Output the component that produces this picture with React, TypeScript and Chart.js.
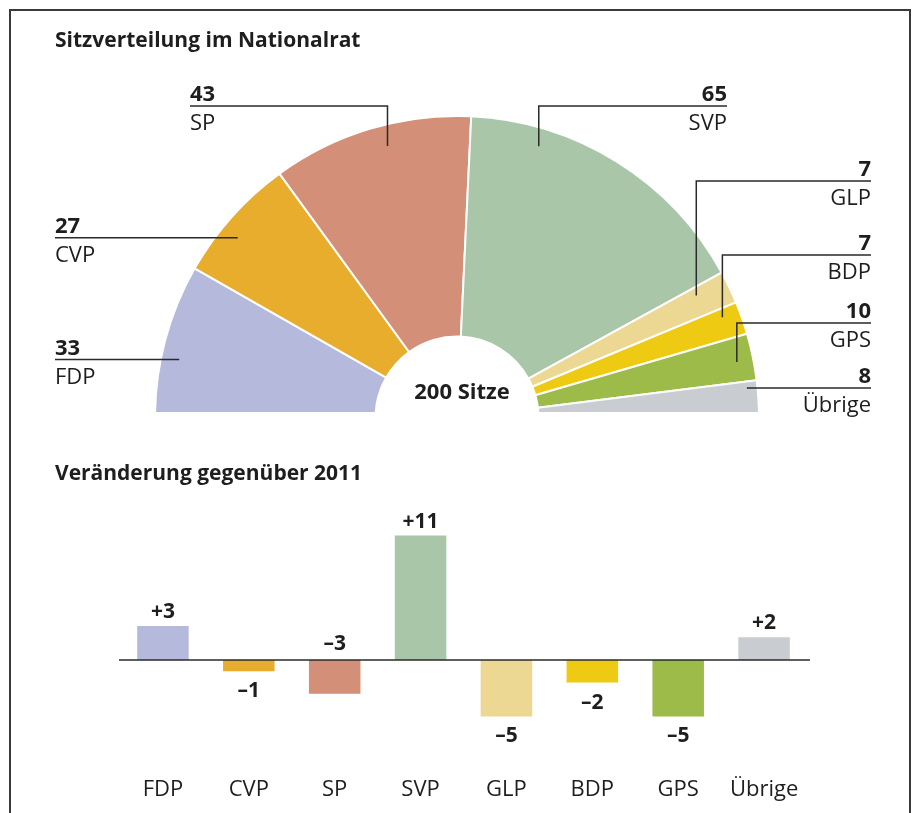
import React, { useEffect, useRef } from "react";
import Chart from "chart.js/auto";

// ---------- data ----------
const parties = ["FDP", "CVP", "SP", "SVP", "GLP", "BDP", "GPS", "Übrige"];
const seats = [33, 27, 43, 65, 7, 7, 10, 8];
const changes = [3, -1, -3, 11, -5, -2, -5, 2];
const changeLabels = ["+3", "–1", "–3", "+11", "–5", "–2", "–5", "+2"];
const partyColors = ["#b5badd", "#e8ad2c", "#d38f78", "#aac6a8", "#ecd892", "#efca12", "#9dbb49", "#c9ccd1"];
const title1 = "Sitzverteilung im Nationalrat";
const title2 = "Veränderung gegenüber 2011";
const centerLabel = "200 Sitze";

// leader-line layout (style, not data)
const leaderAlign: CanvasTextAlign[] = ["left", "left", "left", "right", "right", "right", "right", "right"];
const leaderTextX = [55, 55, 190, 727, 871, 871, 871, 871];
const leaderLineY: (number | null)[] = [null, null, 106, 106, 181, 255, 323, null];
const anchorFrac = [0.4, 0.4, 0.56, 0.24, 0.27, 0.27, 0.54, 0.18];
const anchorRadius = [0.94, 0.94, 0.93, 0.94, 0.89, 0.94, 0.945, 0.965];
const labelAboveAxis = [false, false, true, false, false, false, false, false];

const FONT = "'Open Sans', Lato, sans-serif";
const INK = "#1e1e1e";

export default function App() {
  const donutRef = useRef<HTMLCanvasElement>(null);
  const barRef = useRef<HTMLCanvasElement>(null);

  useEffect(() => {
    const donutPlugin = {
      id: "donutDeco",
      beforeDatasetsDraw(chart: any) {
        const ctx = chart.ctx;
        ctx.save();
        ctx.beginPath();
        ctx.rect(0, 0, chart.width, 412);
        ctx.clip();
      },
      afterDatasetsDraw(chart: any) {
        chart.ctx.restore();
      },
      afterDraw(chart: any) {
        const ctx = chart.ctx as CanvasRenderingContext2D;
        const arcs = chart.getDatasetMeta(0).data;
        ctx.save();
        ctx.fillStyle = INK;
        ctx.textAlign = "left";
        ctx.textBaseline = "alphabetic";
        ctx.font = `bold 21px ${FONT}`;
        ctx.fillText(title1, 55, 47);
        const a0 = arcs[0];
        ctx.textAlign = "center";
        ctx.font = `bold 22px ${FONT}`;
        ctx.fillText(centerLabel, a0.x + 5, 399);
        arcs.forEach((arc: any, i: number) => {
          const ang = arc.startAngle + anchorFrac[i] * (arc.endAngle - arc.startAngle);
          const r = arc.outerRadius * anchorRadius[i];
          const ax = arc.x + r * Math.cos(ang);
          const ay = arc.y + r * Math.sin(ang);
          const ly = leaderLineY[i] ?? ay;
          const tx = leaderTextX[i];
          ctx.strokeStyle = "#2a2a2a";
          ctx.lineWidth = 1.5;
          ctx.beginPath();
          ctx.moveTo(tx, ly);
          ctx.lineTo(ax, ly);
          ctx.lineTo(ax, ay);
          ctx.stroke();
          ctx.textAlign = leaderAlign[i];
          ctx.fillStyle = INK;
          ctx.font = `bold 22px ${FONT}`;
          ctx.fillText(String(seats[i]), tx, ly - 5);
          ctx.font = `22px ${FONT}`;
          ctx.fillText(parties[i], tx, ly + 24);
        });
        ctx.restore();
      },
    };

    const donut = new Chart(donutRef.current!, {
      type: "doughnut",
      data: {
        labels: parties,
        datasets: [
          {
            data: seats,
            backgroundColor: partyColors,
            borderColor: "#ffffff",
            borderWidth: 2,
          },
        ],
      },
      options: {
        animation: false,
        responsive: false,
        rotation: -90,
        circumference: 180,
        cutout: "27%",
        layout: { padding: { left: 154, right: 155, top: 115, bottom: 11 } },
        plugins: { legend: { display: false }, tooltip: { enabled: false } },
      },
      plugins: [donutPlugin],
    });

    const barPlugin = {
      id: "barDeco",
      afterDraw(chart: any) {
        const ctx = chart.ctx as CanvasRenderingContext2D;
        const { left, right } = chart.chartArea;
        const xs = chart.scales.x;
        const ys = chart.scales.y;
        const zero = ys.getPixelForValue(0);
        ctx.save();
        ctx.fillStyle = INK;
        ctx.textAlign = "left";
        ctx.textBaseline = "alphabetic";
        ctx.font = `bold 21px ${FONT}`;
        ctx.fillText(title2, 55, 50);
        ctx.strokeStyle = "#2a2a2a";
        ctx.lineWidth = 1.5;
        ctx.beginPath();
        ctx.moveTo(left - 1, zero);
        ctx.lineTo(right + 3, zero);
        ctx.stroke();
        const bars = chart.getDatasetMeta(0).data;
        bars.forEach((bar: any, i: number) => {
          const x = xs.getPixelForValue(i);
          ctx.textAlign = "center";
          ctx.font = `bold 21px ${FONT}`;
          let y: number;
          if (labelAboveAxis[i]) y = zero - 10;
          else if (changes[i] >= 0) y = bar.y - 8;
          else y = bar.y + 26;
          ctx.fillText(changeLabels[i], x, y);
          ctx.font = `22px ${FONT}`;
          ctx.fillText(parties[i], x, 366);
        });
        ctx.restore();
      },
    };

    const bar = new Chart(barRef.current!, {
      type: "bar",
      data: {
        labels: parties,
        datasets: [
          {
            data: changes,
            backgroundColor: partyColors,
            borderWidth: 0,
            barPercentage: 0.6,
            categoryPercentage: 1.0,
          },
        ],
      },
      options: {
        animation: false,
        responsive: false,
        layout: { padding: { left: 120, right: 108, top: 83, bottom: 74 } },
        scales: {
          x: { display: false },
          y: { display: false, min: -7, max: 13 },
        },
        plugins: { legend: { display: false }, tooltip: { enabled: false } },
      },
      plugins: [barPlugin],
    });

    return () => {
      donut.destroy();
      bar.destroy();
    };
  }, []);

  return (
    <div style={{ position: "absolute", left: 0, top: 0, width: 915, height: 813, overflow: "hidden", background: "#fff" }}>
      <div
        style={{
          position: "absolute",
          left: 9,
          top: 9,
          width: 902,
          height: 830,
          border: "2px solid #3a3a3a",
          boxSizing: "border-box",
        }}
      />
      <canvas ref={donutRef} width={915} height={430} style={{ position: "absolute", left: 0, top: 0 }} />
      <canvas ref={barRef} width={915} height={383} style={{ position: "absolute", left: 0, top: 430 }} />
    </div>
  );
}
